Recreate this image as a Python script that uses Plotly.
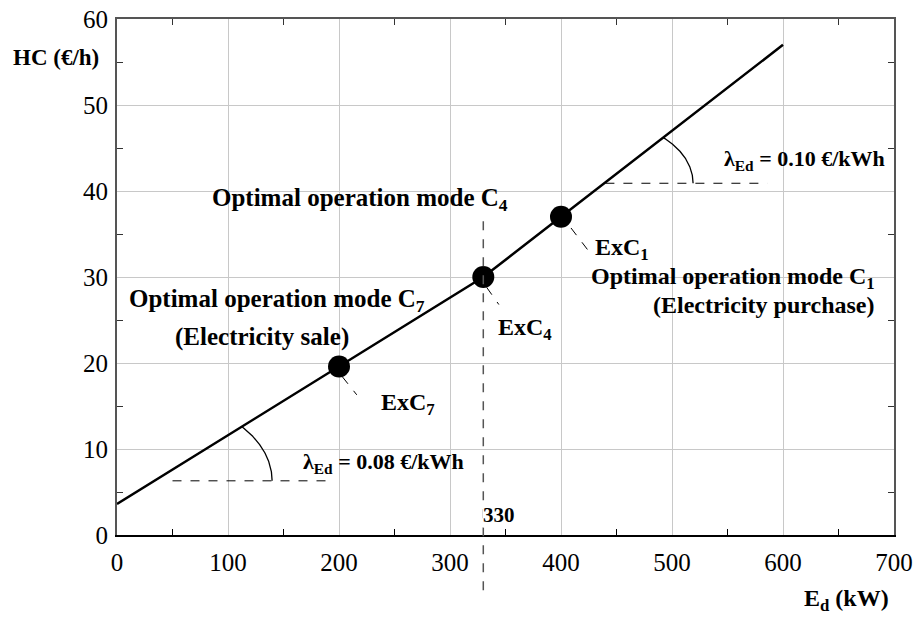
import numpy as np
import plotly.graph_objects as go

# ---- data ----
ed_kw = [0, 200, 330, 400, 600]
hc_eur_h = [3.6, 19.6, 30.0, 37.0, 57.0]
op_x = [200, 330, 400]
op_y = [19.6, 30.0, 37.0]
op_labels = ["ExC<sub>7</sub>", "ExC<sub>4</sub>", "ExC<sub>1</sub>"]
optimum_x = 330
price_low = 0.08
price_high = 0.10

FONT = "Liberation Serif"
fig = go.Figure()

fig.add_trace(go.Scatter(x=ed_kw, y=hc_eur_h, mode="lines",
                         line=dict(color="black", width=2.5), hoverinfo="skip"))
fig.add_trace(go.Scatter(x=op_x, y=op_y, mode="markers",
                         marker=dict(color="black", size=22), hoverinfo="skip"))

def x_at(y):
    return float(np.interp(y, hc_eur_h, ed_kw))

def slope_marker(yh, x0, x1, rx, ry):
    cx = x_at(yh)
    fig.add_trace(go.Scatter(x=[x0, x1], y=[yh, yh], mode="lines",
                             line=dict(color="black", width=1, dash="dash"), hoverinfo="skip"))
    t = np.linspace(0, np.pi / 2, 400)
    px = cx + rx * np.cos(t)
    py = yh + ry * np.sin(t)
    line_y = np.interp(px, ed_kw, hc_eur_h)
    keep = py <= line_y + 1e-9
    fig.add_trace(go.Scatter(x=px[keep], y=py[keep], mode="lines",
                             line=dict(color="black", width=1.3), hoverinfo="skip"))

slope_marker(6.3, 50, 194, 106, 9.4)
slope_marker(40.9, 440, 586, 80, 7.1)

fig.add_trace(go.Scatter(x=[0], y=[0], xaxis="x2", yaxis="y2", mode="markers",
                         marker=dict(opacity=0), hoverinfo="skip"))

shapes = []
shapes.append(dict(type="line", xref="x", yref="paper", x0=optimum_x, x1=optimum_x,
                   y0=-0.107, y1=0.623, line=dict(color="#555", width=1.5, dash="dash")))
for (x, y), (dx0, dy0, dx1, dy1) in zip(zip(op_x, op_y),
                                        [(3, -1.2, 16, -3.3), (3, -1.2, 14, -3.2), (9, -1.3, 25, -4.0)]):
    shapes.append(dict(type="line", xref="x", yref="y", x0=x + dx0, y0=y + dy0,
                       x1=x + dx1, y1=y + dy1, line=dict(color="black", width=1, dash="dash")))

annots = []
def txt(x, y, s, size=25, xref="x", yref="y", xanchor="left", yanchor="middle", bold=True, bg=None):
    a = dict(x=x, y=y, xref=xref, yref=yref, text=("<b>%s</b>" % s) if bold else s,
             showarrow=False, xanchor=xanchor, yanchor=yanchor,
             font=dict(family=FONT, size=size, color="black"))
    if bg:
        a["bgcolor"] = bg
        a["borderpad"] = 0
    annots.append(a)

txt(236, 15.2, op_labels[0], size=24)
txt(341, 24.0, op_labels[1], size=24)
txt(429, 33.3, op_labels[2], size=24)
txt(354, 39.0, "Optimal operation mode C<sub>4</sub>", xanchor="right")
txt(9, 27.3, "Optimal operation mode C<sub>7</sub>")
txt(50, 23.0, "(Electricity sale)")
txt(425, 29.9, "Optimal operation mode C<sub>1</sub>", size=24)
txt(685, 26.7, "(Electricity purchase)", xanchor="right", size=24)
txt(694, 43.6, "λ<sub>Ed</sub> = %.2f €/kWh" % price_high, size=22, xanchor="right")
txt(314, 8.4, "λ<sub>Ed</sub> = %.2f €/kWh" % price_low, size=22, xanchor="right")
txt(344, 2.3, str(optimum_x), size=21, xanchor="center", bg="white")
txt(-0.02, 55.5, "HC (€/h)", xref="paper", yref="y", xanchor="right", size=23)
txt(0.996, -0.125, "E<sub>d</sub> (kW)", xref="paper", yref="paper", xanchor="right", size=24)

axis_font = dict(family=FONT, size=25, color="black")
fig.update_layout(
    width=918, height=617,
    margin=dict(l=117, r=24, t=19, b=82, autoexpand=False),
    paper_bgcolor="white", plot_bgcolor="white",
    showlegend=False,
    shapes=shapes, annotations=annots,
    xaxis=dict(range=[0, 700], dtick=100, showgrid=True, gridcolor="#c8c8c8", gridwidth=1,
               showline=True, linecolor="black", linewidth=2, ticks="", zeroline=False,
               automargin=False, ticklabelstandoff=4,
               tickfont=axis_font, minor=dict(dtick=50, ticks="inside", ticklen=6,
                                              tickcolor="black", showgrid=False)),
    yaxis=dict(range=[0, 60], dtick=10, showgrid=True, gridcolor="#c8c8c8", gridwidth=1,
               showline=True, linecolor="#555", linewidth=2, ticks="", zeroline=False,
               automargin=False, ticklabelstandoff=2,
               tickfont=axis_font, minor=dict(dtick=5, ticks="inside", ticklen=6,
                                              tickcolor="#333", showgrid=False)),
    xaxis2=dict(range=[0, 700], overlaying="x", side="top", anchor="y2", showgrid=False,
                showline=True, linecolor="#555", linewidth=2, showticklabels=False, ticks="",
                dtick=100, zeroline=False, automargin=False,
                minor=dict(dtick=50, ticks="inside", ticklen=6, tickcolor="#333", showgrid=False)),
    yaxis2=dict(range=[0, 60], overlaying="y", side="right", anchor="x2", showgrid=False,
                showline=True, linecolor="#555", linewidth=2, showticklabels=False, ticks="",
                dtick=10, zeroline=False, automargin=False,
                minor=dict(dtick=5, ticks="inside", ticklen=6, tickcolor="#333", showgrid=False)),
)

fig.write_html("out.html")
